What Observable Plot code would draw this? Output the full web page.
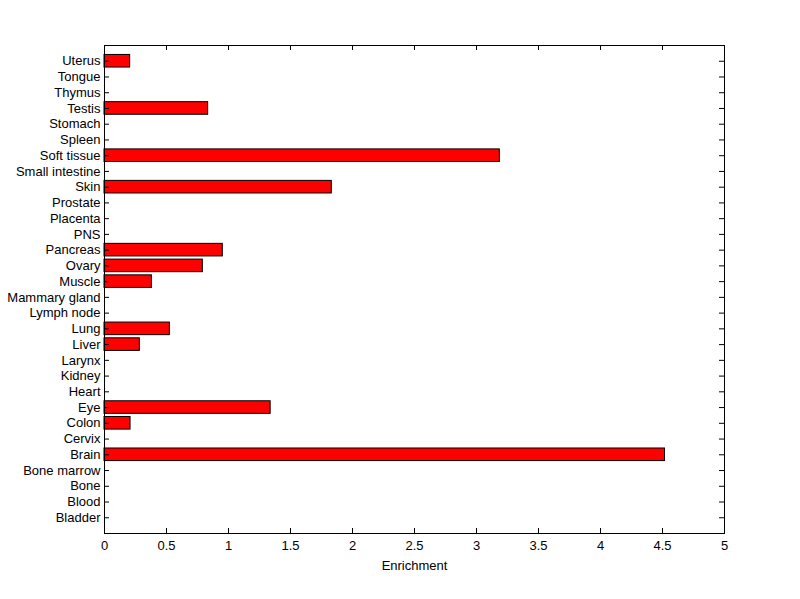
<!DOCTYPE html>
<html>
<head>
<meta charset="utf-8">
<script src="https://cdn.jsdelivr.net/npm/d3@7"></script>
<script src="https://cdn.jsdelivr.net/npm/@observablehq/plot@0.6"></script>
<style>
  html, body { margin: 0; padding: 0; background: #fff; }
  #chart svg { display: block; }
</style>
</head>
<body>
<div id="chart"></div>
<script>
// Categories listed bottom to top
const tissues = ["Bladder","Blood","Bone","Bone marrow","Brain","Cervix","Colon","Eye","Heart","Kidney","Larynx","Liver","Lung","Lymph node","Mammary gland","Muscle","Ovary","Pancreas","PNS","Placenta","Prostate","Skin","Small intestine","Soft tissue","Spleen","Stomach","Testis","Thymus","Tongue","Uterus"];
const enrichment = [0,0,0,0,4.52,0,0.21,1.34,0,0,0,0.285,0.527,0,0,0.382,0.793,0.954,0,0,0,1.833,0,3.188,0,0,0.836,0,0,0.207];
const xTicks = [0,0.5,1,1.5,2,2.5,3,3.5,4,4.5,5];

const data = tissues.map((t, i) => ({tissue: t, value: enrichment[i]}));
const yDomain = tissues.slice().reverse();

const W = 800, H = 599;
const mL = 104, mR = 76, mT = 45, mB = 66;
const fw = W - mL - mR, fh = H - mT - mB;
const tk = 5;

const chart = Plot.plot({
  width: W,
  height: H,
  marginLeft: mL,
  marginRight: mR,
  marginTop: mT,
  marginBottom: mB,
  style: {fontFamily: "'Liberation Sans', Arial, Helvetica, sans-serif", fontSize: "13px", color: "#000", background: "#fff"},
  x: {domain: [0, 5], ticks: xTicks},
  y: {domain: yDomain, paddingInner: 0.2, paddingOuter: 0.6, round: false},
  marks: [
    Plot.barX(data.filter(d => d.value > 0), {y: "tissue", x: "value", fill: "#ff0000", stroke: "#000", strokeWidth: 1}),
    // inward ticks
    Plot.tickY(tissues, {y: d => d, insetRight: fw - tk, stroke: "#000"}),
    Plot.tickY(tissues, {y: d => d, insetLeft: fw - tk, stroke: "#000"}),
    Plot.tickX(xTicks, {x: d => d, insetTop: fh - tk, stroke: "#000"}),
    Plot.tickX(xTicks, {x: d => d, insetBottom: fh - tk, stroke: "#000"}),
    Plot.frame({stroke: "#000", strokeWidth: 1}),
    Plot.axisY({anchor: "left", tickSize: 0, tickPadding: 4, label: null, fontSize: 13}),
    Plot.axisX({anchor: "bottom", ticks: xTicks, tickSize: 0, tickPadding: 7, tickFormat: d => String(d), label: "Enrichment", labelAnchor: "center", labelArrow: "none", labelOffset: 36, fontSize: 13})
  ]
});
document.getElementById("chart").appendChild(chart);
</script>
</body>
</html>
